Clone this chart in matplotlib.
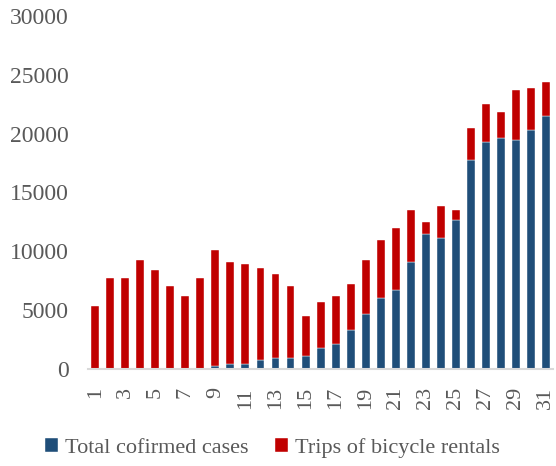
import numpy as np
import matplotlib
matplotlib.use('Agg')
import matplotlib.pyplot as plt
from matplotlib.ticker import FixedLocator, FixedFormatter

plt.rcParams['font.family'] = ['Liberation Serif', 'DejaVu Serif']

# Data
days = list(range(1, 32))
cases = [0, 0, 0, 0, 0, 0, 0, 0, 250, 400, 400, 750, 950, 950, 1100, 1800,
         2100, 3300, 4700, 6050, 6700, 9100, 11500, 11150, 12650, 17750,
         19300, 19650, 19450, 20300, 21500]
rentals = [5350, 7700, 7700, 9250, 8400, 7050, 6200, 7700, 9850, 8700, 8500,
           7850, 7100, 6100, 3400, 3900, 4100, 3900, 4550, 4900, 5300, 4400,
           1000, 2700, 850, 2750, 3200, 2200, 4250, 3600, 2900]
labels = ['Total cofirmed cases', 'Trips of bicycle rentals']
colors = ['#1F4E79', '#C00000']
text_color = '#595959'

fig = plt.figure(figsize=(5.56, 4.66), dpi=100)
ax = fig.add_axes([0.158, 0.208, 0.837, 0.758])

x = np.array(days)
ax.bar(x, cases, width=0.53, color=colors[0], label=labels[0],
       edgecolor='white', linewidth=0.3)
ax.bar(x, rentals, width=0.53, bottom=cases, color=colors[1], label=labels[1],
       edgecolor='white', linewidth=0.3)

ax.set_xlim(0.5, 31.5)
ax.set_ylim(0, 30000)
ax.set_yticks(range(0, 30001, 5000))
ax.tick_params(axis='y', length=0, pad=14, labelsize=17, labelcolor=text_color)

odd = days[::2]
ax.xaxis.set_major_locator(FixedLocator(odd))
ax.xaxis.set_major_formatter(FixedFormatter([str(d) for d in odd]))
ax.tick_params(axis='x', length=0, pad=13, labelsize=16, labelcolor=text_color,
               labelrotation=90)

for s in ['top', 'right', 'left']:
    ax.spines[s].set_visible(False)
ax.spines['bottom'].set_color('#D9D9D9')
ax.spines['bottom'].set_linewidth(1.5)

fig.legend(loc='center', bbox_to_anchor=(0.49, 1 - 448 / 466), ncol=2,
           frameon=False, fontsize=16, labelcolor=text_color,
           handlelength=0.6, handleheight=0.6, handletextpad=0.3,
           columnspacing=1.2)

fig.savefig('out.png', dpi=100)
